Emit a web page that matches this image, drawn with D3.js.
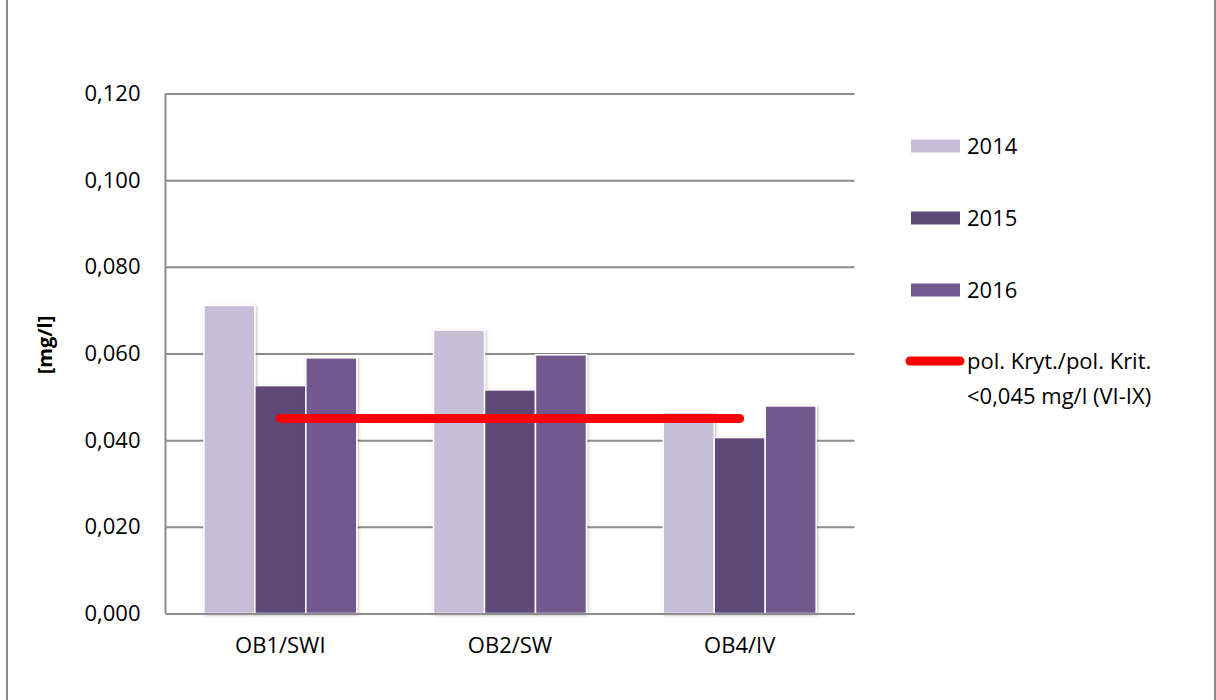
<!DOCTYPE html>
<html>
<head>
<meta charset="utf-8">
<script src="https://cdn.jsdelivr.net/npm/d3@7"></script>
<style>
    html, body { margin: 0; padding: 0; background: #fff; }
    svg { display: block; font-family: "Open Sans", sans-serif; }
    .tick text { font-size: 22px; fill: #000; font-family: "Open Sans", sans-serif; }
</style>
</head>
<body>
<div id="chart"></div>
<script>
    var categories = ["OB1/SWI", "OB2/SW", "OB4/IV"];
    var years = ["2014", "2015", "2016"];
    var values2014 = [0.0711, 0.0654, 0.0464];
    var values2015 = [0.0526, 0.0516, 0.0406];
    var values2016 = [0.0590, 0.0597, 0.0479];
    var limitValues = [0.045, 0.045, 0.045];
    var limitLabel = ["pol. Kryt./pol. Krit.", "<0,045 mg/l (VI-IX)"];
    var yTicks = [0, 0.02, 0.04, 0.06, 0.08, 0.10, 0.12];
    var yTitle = "[mg/l]";

    var colors = ["#c6bed6", "#5e4a78", "#72598f"];
    var series = [values2014, values2015, values2016];

    var W = 1216, H = 700;
    var margin = {left: 165.5, right: 361.5, top: 93.5, bottom: 86.5};
    var width = W - margin.left - margin.right,
        height = H - margin.top - margin.bottom;

    var svg = d3.select("#chart").append("svg")
        .attr("width", W).attr("height", H);

    // soft shadow behind the bars
    var defs = svg.append("defs");
    defs.append("filter").attr("id", "shadow")
        .attr("x", "-20%").attr("y", "-20%").attr("width", "140%").attr("height", "140%")
        .append("feDropShadow")
        .attr("dx", 1).attr("dy", 1).attr("stdDeviation", 1.6)
        .attr("flood-color", "#000").attr("flood-opacity", 0.28);

    // outer chart frame
    svg.append("rect")
        .attr("x", 7).attr("y", -5).attr("width", 1208).attr("height", H + 10)
        .attr("fill", "none").attr("stroke", "#8c8c8c").attr("stroke-width", 2);

    var g = svg.append("g").attr("transform", "translate(" + margin.left + "," + margin.top + ")");

    var x = d3.scaleBand().domain(categories).range([0, width])
        .paddingInner(0.334).paddingOuter(0.167);
    var xs = d3.scaleBand().domain(years).range([0, x.bandwidth()]);
    var y = d3.scaleLinear().domain([0, 0.12]).range([height, 0]);

    var fmt = function (d) { return d3.format(".3f")(d).replace(".", ","); };

    // gridlines + y labels
    var yAxis = g.append("g")
        .call(d3.axisLeft(y).tickValues(yTicks).tickSize(-width).tickPadding(25).tickFormat(fmt));
    yAxis.attr("font-family", null).attr("font-size", null);
    yAxis.select(".domain").remove();
    yAxis.selectAll(".tick line").attr("stroke", "#8c8c8c").attr("stroke-width", 2);

    // left axis line
    g.append("line").attr("x1", 0).attr("x2", 0).attr("y1", 0).attr("y2", height)
        .attr("stroke", "#8c8c8c").attr("stroke-width", 2);

    // bars
    var groups = g.selectAll("g.grp").data(categories).enter().append("g")
        .attr("class", "grp")
        .attr("transform", function (d) { return "translate(" + x(d) + ",0)"; });

    groups.selectAll("rect").data(function (d, i) {
            return years.map(function (yr, j) { return {year: yr, value: series[j][i], k: j}; });
        })
        .enter().append("rect")
        .attr("x", function (d) { return xs(d.year); })
        .attr("y", function (d) { return y(d.value); })
        .attr("width", xs.bandwidth())
        .attr("height", function (d) { return height - y(d.value); })
        .attr("fill", function (d) { return colors[d.k]; })
        .attr("stroke", "#fff").attr("stroke-width", 1.5)
        .attr("filter", "url(#shadow)");

    // x axis
    var xAxis = g.append("g").attr("transform", "translate(0," + height + ")")
        .call(d3.axisBottom(x).tickSize(0).tickPadding(24));
    xAxis.attr("font-family", null).attr("font-size", null);
    xAxis.select(".domain").attr("stroke", "#8c8c8c").attr("stroke-width", 2);

    // limit line
    var line = d3.line()
        .x(function (d, i) { return x(categories[i]) + x.bandwidth() / 2; })
        .y(function (d) { return y(d); });
    g.append("path").datum(limitValues)
        .attr("d", line)
        .attr("fill", "none").attr("stroke", "#ff0000")
        .attr("stroke-width", 9).attr("stroke-linecap", "round");

    // y title
    svg.append("text")
        .attr("transform", "translate(52,345) rotate(-90)")
        .attr("text-anchor", "middle")
        .style("font-size", "20px").style("font-weight", "bold")
        .text(yTitle);

    // legend
    var legend = svg.append("g").attr("transform", "translate(911,0)");
    var legendY = [146, 218, 290];
    years.forEach(function (yr, i) {
        legend.append("rect")
            .attr("x", 0).attr("y", legendY[i] - 6.5).attr("width", 49).attr("height", 13)
            .attr("fill", colors[i]);
        legend.append("text")
            .attr("x", 56).attr("y", legendY[i]).attr("dy", "0.36em")
            .style("font-size", "22px").text(yr);
    });
    legend.append("line")
        .attr("x1", -1).attr("x2", 49).attr("y1", 361).attr("y2", 361)
        .attr("stroke", "#ff0000").attr("stroke-width", 9).attr("stroke-linecap", "round");
    legend.append("text")
        .attr("x", 56).attr("y", 361).attr("dy", "0.36em")
        .style("font-size", "22px").text(limitLabel[0]);
    legend.append("text")
        .attr("x", 56).attr("y", 396).attr("dy", "0.36em")
        .style("font-size", "22px").text(limitLabel[1]);
</script>
</body>
</html>
